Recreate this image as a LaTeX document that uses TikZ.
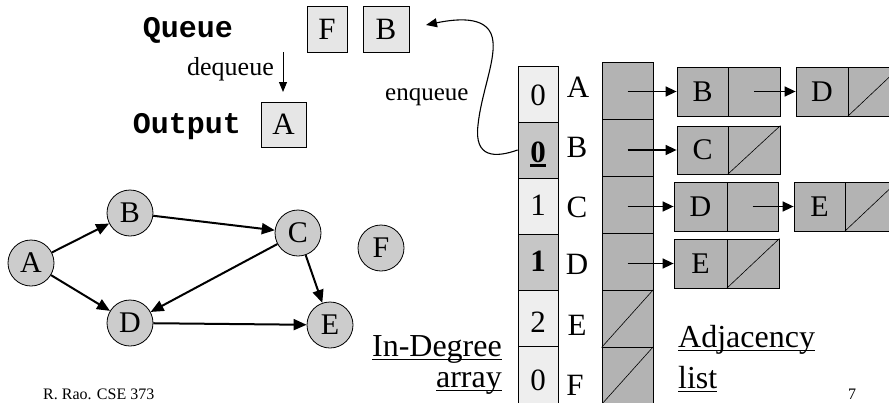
\documentclass[tikz,border=0pt]{standalone}
\usepackage{fontspec}
\setmainfont{Liberation Serif}
\setmonofont{Liberation Mono}
\usetikzlibrary{arrows.meta}
\newsavebox{\ulbox}
\newcommand{\myul}[3]{\sbox{\ulbox}{#3}\rlap{\raisebox{-#1}{\rule{\wd\ulbox}{#2}}}\usebox{\ulbox}}
\newcommand{\fsz}[1]{\fontsize{#1}{#1}\selectfont}
\definecolor{qfill}{HTML}{E6E6E6}
\definecolor{lightcell}{HTML}{EEEEEE}
\definecolor{darkcell}{HTML}{C6C6C6}
\definecolor{adjfill}{HTML}{B3B3B3}
\definecolor{gnode}{HTML}{CCCCCC}
\begin{document}
\begin{tikzpicture}[x=1pt,y=-1pt,
  qbox/.style={draw, line width=0.8pt, fill=qfill, inner sep=0, font=\fsz{31}},
  idx/.style={draw, line width=0.8pt, minimum width=40pt, minimum height=56pt, inner sep=0},
  adj/.style={draw, line width=0.8pt, fill=adjfill, minimum width=51pt, minimum height=57pt, inner sep=0},
  lbox/.style={draw, line width=0.8pt, fill=adjfill, minimum height=49pt, inner sep=0, font=\fsz{30}},
  txt/.style={inner sep=0, font=\fsz{31}},
  gnd/.style={circle, draw, line width=0.8pt, fill=gnode, minimum size=46pt, inner sep=0, font=\fsz{30}},
  garr/.style={line width=2pt, -{Triangle[length=13pt,width=11pt]}},
  larr/.style={line width=1.5pt, -{Triangle[length=11pt,width=10pt]}},
  tarr/.style={line width=1pt, -{Triangle[length=10pt,width=8pt]}},
  slash/.style={line width=0.6pt}
]
\useasboundingbox (0,0) rectangle (889,402);
\clip (0,0) rectangle (889,402);

% queue area
\node[txt, anchor=base, font=\fsz{30}\ttfamily\bfseries] (queue) at (188,37) {Queue};
\node[qbox, minimum width=40pt, minimum height=46pt] (qF) at (327,29) {F};
\node[qbox, minimum width=46pt, minimum height=46pt] (qB) at (386,29) {B};
\node[txt, anchor=base east, font=\fsz{26}] (deq) at (274,75) {dequeue};
\coordinate (deqS) at (283,52);
\coordinate (deqE) at (283,92);
\draw[tarr] (deqS) -- (deqE);
\node[txt, anchor=base, font=\fsz{30}\ttfamily\bfseries] (output) at (187,133) {Output};
\node[qbox, minimum width=45pt, minimum height=45pt] (qA) at (283.5,124.5) {A};
\node[txt, anchor=base west, font=\fsz{25}] (enq) at (385,100) {enqueue};

% in-degree array
\node[idx, fill=lightcell] (idxA) at (538,94) {};
\node[idx, fill=darkcell] (idxB) at (538,150) {};
\node[idx, fill=lightcell] (idxC) at (538,206) {};
\node[idx, fill=darkcell] (idxD) at (538,262) {};
\node[idx, fill=lightcell] (idxE) at (538,318) {};
\node[idx, fill=lightcell, minimum height=60pt] (idxF) at (538,376) {};
\node[txt, anchor=base] (dA) at (538,105) {0};
\node[txt, anchor=base] (dB) at (538,162) {\myul{5pt}{3pt}{\textbf{0}}};
\node[txt, anchor=base] (dC) at (538,215) {1};
\node[txt, anchor=base] (dD) at (538,271) {\textbf{1}};
\node[txt, anchor=base] (dE) at (538,332) {2};
\node[txt, anchor=base] (dF) at (538,390) {0};

% vertex letters
\node[txt, anchor=base] (vA) at (578,97) {A};
\node[txt, anchor=base] (vB) at (577,157) {B};
\node[txt, anchor=base] (vC) at (577,217) {C};
\node[txt, anchor=base] (vD) at (577,274) {D};
\node[txt, anchor=base] (vE) at (577,335) {E};
\node[txt, anchor=base] (vF) at (575,395) {F};

% adjacency column
\node[adj] (adjA) at (627.5,90.5) {};
\node[adj] (adjB) at (627.5,147.5) {};
\node[adj] (adjC) at (627.5,204.5) {};
\node[adj] (adjD) at (627.5,261.5) {};
\node[adj] (adjE) at (627.5,318.5) {};
\node[adj] (adjF) at (627.5,375.5) {};
\draw[slash] (adjE.south west) -- (adjE.north east);
\draw[slash] (adjF.south west) -- (adjF.north east);

% list nodes
\node[lbox, minimum width=51pt] (lAB1) at (702.5,91.5) {B};
\node[lbox, minimum width=52pt] (lAB2) at (754,91.5) {};
\node[lbox, minimum width=52pt] (lAD1) at (822,91.5) {D};
\node[lbox, minimum width=52pt] (lAD2) at (874,91.5) {};
\draw[slash] (lAD2.south west) -- (lAD2.north east);

\node[lbox, minimum width=51pt, minimum height=48pt] (lBC1) at (702.5,150) {C};
\node[lbox, minimum width=52pt, minimum height=48pt] (lBC2) at (754,150) {};
\draw[slash] (lBC2.south west) -- (lBC2.north east);

\node[lbox, minimum width=53pt] (lCD1) at (700.5,206.5) {D};
\node[lbox, minimum width=51pt] (lCD2) at (752.5,206.5) {};
\node[lbox, minimum width=51pt] (lCE1) at (819.5,206.5) {E};
\node[lbox, minimum width=52pt] (lCE2) at (871,206.5) {};
\draw[slash] (lCE2.south west) -- (lCE2.north east);

\node[lbox, minimum width=53pt] (lDE1) at (700.5,263.5) {E};
\node[lbox, minimum width=52pt] (lDE2) at (753,263.5) {};
\draw[slash] (lDE2.south west) -- (lDE2.north east);

% list arrows
\draw[larr] (adjA.center |- lAB1.west) -- (lAB1.west);
\draw[larr] (lAB2.center) -- (lAD1.west);
\draw[larr] (adjB.center |- lBC1.west) -- (lBC1.west);
\draw[larr] (adjC.center |- lCD1.west) -- (lCD1.west);
\draw[larr] (lCD2.center) -- (lCE1.west);
\draw[larr] (adjD.center |- lDE1.west) -- (lDE1.west);

% enqueue curve
\coordinate (enqE) at (426,25);
\draw[line width=1.1pt, -{Triangle[length=11pt,width=9pt]}] (idxB.west) .. controls (495,158) and (474,158) .. (478,125) .. controls (481,95) and (495,62) .. (493,42) .. controls (491,16) and (460,18) .. (enqE);

% labels
\node[txt, anchor=base east, font=\fsz{32}] (indeg) at (502,356) {\myul{4pt}{1.5pt}{In-Degree}};
\node[txt, anchor=base east, font=\fsz{32}] (arr) at (502,387) {\myul{4pt}{1.5pt}{array}};
\node[txt, anchor=base west, font=\fsz{32}] (adjl) at (678,347) {\myul{4pt}{1.5pt}{Adjacency}};
\node[txt, anchor=base west, font=\fsz{32}] (listl) at (678,388) {\myul{4pt}{1.5pt}{list}};
\node[txt, anchor=base west, font=\fsz{16}] (foot) at (43,399) {R. Rao. CSE 373};
\node[txt, anchor=base, font=\fsz{16}] (pg) at (852,399) {7};

% graph
\node[gnd] (gA) at (31,263) {A};
\node[gnd] (gB) at (130,213) {B};
\node[gnd] (gC) at (298,233) {C};
\node[gnd] (gF) at (381,248) {F};
\node[gnd] (gD) at (130,323) {D};
\node[gnd] (gE) at (330,325) {E};
\draw[garr] (gA) -- (gB);
\draw[garr] (gA) -- (gD);
\draw[garr] (gB) -- (gC);
\draw[garr] (gC) -- (gD);
\draw[garr] (gC) -- (gE);
\draw[garr] (gD) -- (gE);
\end{tikzpicture}
\end{document}
